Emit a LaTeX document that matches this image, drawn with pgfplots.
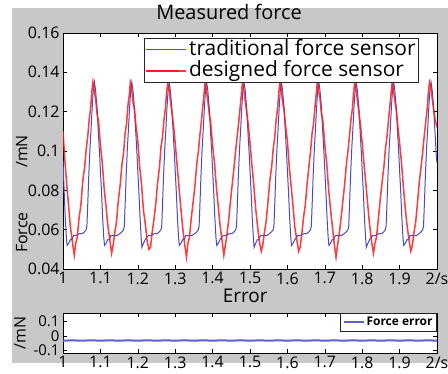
\documentclass[border=0pt]{standalone}
\usepackage{pgfplots}
\pgfplotsset{compat=1.18}
\usepackage{fontspec}
\setmainfont{Open Sans}
\definecolor{bggray}{RGB}{200,200,200}
\definecolor{tradblue}{RGB}{75,75,195}
\definecolor{desred}{RGB}{255,25,25}
\definecolor{errblue}{RGB}{95,95,205}
\begin{document}
\begin{tikzpicture}[x=1bp,y=1bp]
\path[use as bounding box] (0,0) rectangle (448,373);
\fill[bggray] (12,10) rectangle (448,365);
\begin{axis}[
  at={(63bp,104bp)}, anchor=south west, scale only axis,
  width=374bp, height=236bp,
  xmin=1, xmax=2, ymin=0.04, ymax=0.16,
  xtick={1,1.1,1.2,1.3,1.4,1.5,1.6,1.7,1.8,1.9,2},
  xticklabels={1,1.1,1.2,1.3,1.4,1.5,1.6,1.7,1.8,1.9,2/s},
  ytick={0.04,0.06,0.08,0.1,0.12,0.14,0.16},
  scaled y ticks=false,
  yticklabel style={/pgf/number format/fixed,/pgf/number format/precision=2},
  /pgf/number format/assume math mode=true,
  tick label style={font=\fontsize{16}{18}\selectfont},
  tick align=inside, major tick length=4bp,
  tick style={black, line width=0.6bp},
  axis background/.style={fill=white},
  axis line style={black, line width=0.9bp},
  title={Measured force},
  title style={at={(axis description cs:0.444,1.064)}, anchor=center, font=\fontsize{20}{22}\selectfont},
  ylabel={Force\hspace{2.8em}/mN},
  every axis y label/.style={at={(axis description cs:-0.11,0.318)}, rotate=90, anchor=center, font=\fontsize{16}{18}\selectfont},
  legend style={at={(0.952,0.979)}, anchor=north east, font=\fontsize{21}{21}\selectfont,
    draw=black!85, line width=0.9bp, inner sep=1bp, row sep=0bp, fill=white,
    nodes={text height=14bp, text depth=3bp}},
  legend cell align=left,
  legend image code/.code={\path (0bp,0bp) -- (40bp,0bp); \draw[#1] (0bp,0bp) -- (33bp,0bp);},
]
\addplot[tradblue, line width=1bp] coordinates {
(1.000,0.095) (1.003,0.080) (1.006,0.066) (1.009,0.056) (1.011,0.052) (1.015,0.053) (1.020,0.055) (1.024,0.055) (1.028,0.057) (1.035,0.057) (1.045,0.058) (1.052,0.058) (1.058,0.059) (1.062,0.060) (1.064,0.062) (1.066,0.072) (1.069,0.088) (1.072,0.101) (1.075,0.111) (1.078,0.122) (1.081,0.131) (1.084,0.135) (1.087,0.131) (1.091,0.122) (1.095,0.108) (1.098,0.098)
(1.100,0.090) (1.103,0.079) (1.106,0.066) (1.109,0.056) (1.111,0.052) (1.115,0.053) (1.120,0.055) (1.124,0.055) (1.128,0.057) (1.135,0.057) (1.145,0.057) (1.152,0.058) (1.158,0.059) (1.162,0.060) (1.164,0.062) (1.166,0.072) (1.169,0.088) (1.172,0.101) (1.175,0.111) (1.178,0.122) (1.181,0.131) (1.184,0.135) (1.187,0.131) (1.191,0.122) (1.195,0.108) (1.198,0.098)
(1.200,0.090) (1.203,0.079) (1.206,0.066) (1.209,0.056) (1.211,0.051) (1.215,0.053) (1.220,0.055) (1.224,0.056) (1.228,0.057) (1.235,0.057) (1.245,0.058) (1.252,0.058) (1.258,0.059) (1.262,0.060) (1.264,0.062) (1.266,0.072) (1.269,0.088) (1.272,0.101) (1.275,0.111) (1.278,0.122) (1.281,0.131) (1.284,0.135) (1.287,0.131) (1.291,0.122) (1.295,0.108) (1.298,0.098)
(1.300,0.090) (1.303,0.079) (1.306,0.066) (1.309,0.056) (1.311,0.052) (1.315,0.053) (1.320,0.055) (1.324,0.055) (1.328,0.057) (1.335,0.057) (1.345,0.057) (1.352,0.058) (1.358,0.059) (1.362,0.060) (1.364,0.062) (1.366,0.072) (1.369,0.088) (1.372,0.101) (1.375,0.111) (1.378,0.122) (1.381,0.131) (1.384,0.135) (1.387,0.131) (1.391,0.122) (1.395,0.108) (1.398,0.098)
(1.400,0.090) (1.403,0.079) (1.406,0.066) (1.409,0.056) (1.411,0.052) (1.415,0.053) (1.420,0.055) (1.424,0.056) (1.428,0.057) (1.435,0.057) (1.445,0.058) (1.452,0.058) (1.458,0.059) (1.462,0.060) (1.464,0.062) (1.466,0.072) (1.469,0.088) (1.472,0.101) (1.475,0.111) (1.478,0.122) (1.481,0.131) (1.484,0.135) (1.487,0.131) (1.491,0.122) (1.495,0.108) (1.498,0.098)
(1.500,0.090) (1.503,0.079) (1.506,0.066) (1.509,0.056) (1.511,0.051) (1.515,0.053) (1.520,0.055) (1.524,0.055) (1.528,0.057) (1.535,0.057) (1.545,0.057) (1.552,0.058) (1.558,0.059) (1.562,0.060) (1.564,0.062) (1.566,0.072) (1.569,0.088) (1.572,0.101) (1.575,0.111) (1.578,0.122) (1.581,0.131) (1.584,0.135) (1.587,0.131) (1.591,0.122) (1.595,0.108) (1.598,0.098)
(1.600,0.090) (1.603,0.079) (1.606,0.066) (1.609,0.056) (1.611,0.052) (1.615,0.053) (1.620,0.055) (1.624,0.056) (1.628,0.057) (1.635,0.057) (1.645,0.058) (1.652,0.058) (1.658,0.059) (1.662,0.060) (1.664,0.062) (1.666,0.072) (1.669,0.088) (1.672,0.101) (1.675,0.111) (1.678,0.122) (1.681,0.131) (1.684,0.135) (1.687,0.131) (1.691,0.122) (1.695,0.108) (1.698,0.098)
(1.700,0.090) (1.703,0.079) (1.706,0.066) (1.709,0.056) (1.711,0.052) (1.715,0.053) (1.720,0.055) (1.724,0.055) (1.728,0.057) (1.735,0.057) (1.745,0.057) (1.752,0.058) (1.758,0.059) (1.762,0.060) (1.764,0.062) (1.766,0.072) (1.769,0.088) (1.772,0.101) (1.775,0.111) (1.778,0.122) (1.781,0.131) (1.784,0.135) (1.787,0.131) (1.791,0.122) (1.795,0.108) (1.798,0.098)
(1.800,0.090) (1.803,0.079) (1.806,0.066) (1.809,0.056) (1.811,0.051) (1.815,0.053) (1.820,0.055) (1.824,0.056) (1.828,0.057) (1.835,0.057) (1.845,0.058) (1.852,0.058) (1.858,0.059) (1.862,0.060) (1.864,0.062) (1.866,0.072) (1.869,0.088) (1.872,0.101) (1.875,0.111) (1.878,0.122) (1.881,0.131) (1.884,0.135) (1.887,0.131) (1.891,0.122) (1.895,0.108) (1.898,0.098)
(1.900,0.090) (1.903,0.079) (1.906,0.066) (1.909,0.056) (1.911,0.052) (1.915,0.053) (1.920,0.055) (1.924,0.055) (1.928,0.057) (1.935,0.057) (1.945,0.057) (1.952,0.058) (1.958,0.059) (1.962,0.060) (1.964,0.062) (1.966,0.072) (1.969,0.088) (1.972,0.101) (1.975,0.111) (1.978,0.122) (1.981,0.131) (1.984,0.135) (1.987,0.131) (1.991,0.122) (1.995,0.108) (1.998,0.098) (2.000,0.094)
};
\addlegendentry{traditional force sensor}
\addplot[desred, opacity=0.85, line width=1.5bp] coordinates {
(1.000,0.110) (1.005,0.095) (1.010,0.083) (1.015,0.072) (1.020,0.061) (1.025,0.054) (1.030,0.047) (1.034,0.053) (1.038,0.056) (1.043,0.066) (1.048,0.073) (1.053,0.085) (1.058,0.092) (1.062,0.101) (1.066,0.107) (1.070,0.116) (1.074,0.122) (1.077,0.130) (1.080,0.135) (1.083,0.131) (1.087,0.127) (1.091,0.119) (1.095,0.115)
(1.100,0.103) (1.105,0.094) (1.110,0.081) (1.115,0.072) (1.120,0.062) (1.125,0.055) (1.130,0.048) (1.134,0.052) (1.138,0.058) (1.143,0.064) (1.148,0.075) (1.153,0.083) (1.158,0.094) (1.162,0.099) (1.166,0.109) (1.170,0.114) (1.174,0.124) (1.177,0.128) (1.180,0.135) (1.183,0.133) (1.187,0.125) (1.191,0.121) (1.195,0.113)
(1.200,0.105) (1.205,0.092) (1.210,0.083) (1.215,0.070) (1.220,0.063) (1.225,0.054) (1.230,0.050) (1.234,0.051) (1.238,0.058) (1.243,0.065) (1.248,0.073) (1.253,0.084) (1.258,0.092) (1.262,0.102) (1.266,0.107) (1.270,0.116) (1.274,0.122) (1.277,0.130) (1.280,0.134) (1.283,0.132) (1.287,0.126) (1.291,0.120) (1.295,0.114)
(1.300,0.104) (1.305,0.093) (1.310,0.082) (1.315,0.071) (1.320,0.061) (1.325,0.053) (1.330,0.046) (1.334,0.053) (1.338,0.056) (1.343,0.066) (1.348,0.074) (1.353,0.083) (1.358,0.094) (1.362,0.100) (1.366,0.108) (1.370,0.115) (1.374,0.123) (1.377,0.129) (1.380,0.135) (1.383,0.131) (1.387,0.126) (1.391,0.119) (1.395,0.114)
(1.400,0.103) (1.405,0.094) (1.410,0.082) (1.415,0.072) (1.420,0.062) (1.425,0.055) (1.430,0.047) (1.434,0.052) (1.438,0.057) (1.443,0.065) (1.448,0.075) (1.453,0.084) (1.458,0.093) (1.462,0.101) (1.466,0.108) (1.470,0.115) (1.474,0.123) (1.477,0.129) (1.480,0.135) (1.483,0.132) (1.487,0.126) (1.491,0.120) (1.495,0.114)
(1.500,0.104) (1.505,0.093) (1.510,0.083) (1.515,0.071) (1.520,0.062) (1.525,0.054) (1.530,0.049) (1.534,0.052) (1.538,0.058) (1.543,0.064) (1.548,0.074) (1.553,0.085) (1.558,0.092) (1.562,0.101) (1.566,0.107) (1.570,0.116) (1.574,0.122) (1.577,0.130) (1.580,0.135) (1.583,0.132) (1.587,0.125) (1.591,0.121) (1.595,0.113)
(1.600,0.105) (1.605,0.092) (1.610,0.082) (1.615,0.072) (1.620,0.061) (1.625,0.055) (1.630,0.049) (1.634,0.051) (1.638,0.057) (1.643,0.066) (1.648,0.073) (1.653,0.084) (1.658,0.093) (1.662,0.100) (1.666,0.109) (1.670,0.114) (1.674,0.123) (1.677,0.129) (1.680,0.135) (1.683,0.131) (1.687,0.127) (1.691,0.119) (1.695,0.115)
(1.700,0.103) (1.705,0.094) (1.710,0.081) (1.715,0.071) (1.720,0.062) (1.725,0.053) (1.730,0.046) (1.734,0.052) (1.738,0.057) (1.743,0.065) (1.748,0.074) (1.753,0.083) (1.758,0.094) (1.762,0.100) (1.766,0.108) (1.770,0.116) (1.774,0.122) (1.777,0.130) (1.780,0.135) (1.783,0.132) (1.787,0.126) (1.791,0.120) (1.795,0.114)
(1.800,0.104) (1.805,0.093) (1.810,0.083) (1.815,0.072) (1.820,0.062) (1.825,0.054) (1.830,0.048) (1.834,0.053) (1.838,0.056) (1.843,0.065) (1.848,0.075) (1.853,0.084) (1.858,0.092) (1.862,0.101) (1.866,0.107) (1.870,0.115) (1.874,0.123) (1.877,0.129) (1.880,0.135) (1.883,0.131) (1.887,0.126) (1.891,0.121) (1.895,0.113)
(1.900,0.104) (1.905,0.094) (1.910,0.082) (1.915,0.071) (1.920,0.062) (1.925,0.055) (1.930,0.049) (1.934,0.052) (1.938,0.058) (1.943,0.064) (1.948,0.074) (1.953,0.085) (1.958,0.093) (1.962,0.100) (1.966,0.108) (1.970,0.115) (1.974,0.122) (1.977,0.130) (1.980,0.135) (1.983,0.133) (1.987,0.127) (1.991,0.121) (1.995,0.116) (2.000,0.112)
};
\addlegendentry{designed force sensor}
\end{axis}
\begin{axis}[
  at={(63bp,20bp)}, anchor=south west, scale only axis,
  width=374bp, height=40bp,
  xmin=1, xmax=2, ymin=-0.12, ymax=0.16,
  xtick={1,1.1,1.2,1.3,1.4,1.5,1.6,1.7,1.8,1.9,2},
  xticklabels={1,1.1,1.2,1.3,1.4,1.5,1.6,1.7,1.8,1.9,2/s},
  ytick={-0.1,0,0.1},
  scaled y ticks=false,
  yticklabel style={/pgf/number format/fixed,/pgf/number format/precision=2},
  /pgf/number format/assume math mode=true,
  tick label style={font=\fontsize{16}{18}\selectfont},
  yticklabel style={font=\fontsize{15}{16}\selectfont},
  tick align=inside, major tick length=4bp,
  tick style={black, line width=0.6bp},
  axis background/.style={fill=white},
  axis line style={black, line width=0.9bp},
  title={Error},
  title style={at={(axis description cs:0.487,1.27)}, anchor=center, font=\fontsize{19}{21}\selectfont},
  ylabel={/mN},
  every axis y label/.style={at={(axis description cs:-0.115,0.5)}, rotate=90, anchor=center, font=\fontsize{16}{18}\selectfont},
  legend style={at={(1,1)}, anchor=north east, font=\bfseries\fontsize{12}{13}\selectfont,
    draw=black!85, line width=0.9bp, inner sep=2bp, fill=white},
  legend image code/.code={\draw[#1] (0bp,0bp) -- (20bp,0bp);},
]
\addplot[errblue, line width=2bp] coordinates {
(1.000,-0.034) (1.025,-0.031) (1.050,-0.034) (1.075,-0.031) (1.100,-0.034) (1.125,-0.031) (1.150,-0.034) (1.175,-0.031) (1.200,-0.034) (1.225,-0.031) (1.250,-0.034) (1.275,-0.031) (1.300,-0.034) (1.325,-0.031) (1.350,-0.034) (1.375,-0.031) (1.400,-0.034) (1.425,-0.031) (1.450,-0.034) (1.475,-0.031) (1.500,-0.034) (1.525,-0.031) (1.550,-0.034) (1.575,-0.031) (1.600,-0.034) (1.625,-0.031) (1.650,-0.034) (1.675,-0.031) (1.700,-0.034) (1.725,-0.031) (1.750,-0.034) (1.775,-0.031) (1.800,-0.034) (1.825,-0.031) (1.850,-0.034) (1.875,-0.031) (1.900,-0.034) (1.925,-0.031) (1.950,-0.034) (1.975,-0.031) (2.000,-0.034)
};
\addlegendentry{Force error}
\end{axis}
\end{tikzpicture}
\end{document}
